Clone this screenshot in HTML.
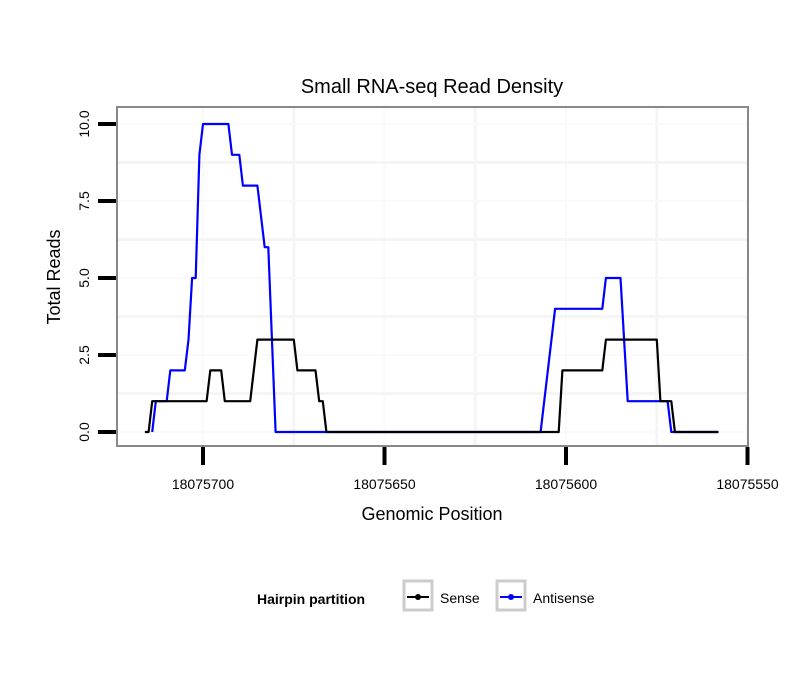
<!DOCTYPE html>
<html><head><meta charset="utf-8"><style>
body{margin:0;background:#fff;}
text{font-family:"Liberation Sans",Arial,sans-serif;}
</style></head><body>
<svg id="chart" width="810" height="690" xmlns="http://www.w3.org/2000/svg">
<rect width="810" height="690" fill="#fff"/>
<text x="432" y="93" font-size="20" text-anchor="middle">Small RNA-seq Read Density</text>
<g id="grid"></g>
<g id="series"></g>
<rect x="117" y="107" width="631" height="339" fill="none" stroke="#888" stroke-width="2"/>
<g id="axes"></g>
<text x="432" y="520" font-size="18" text-anchor="middle">Genomic Position</text>
<text transform="translate(60,277) rotate(-90)" font-size="18" text-anchor="middle">Total Reads</text>
<g>
<text x="257" y="604" font-size="14" font-weight="bold">Hairpin partition</text>
<g>
<rect x="404" y="581" width="28" height="29" fill="#fff" stroke="#ccc" stroke-width="3"/>
<line x1="407" y1="597" x2="429" y2="597" stroke="#000" stroke-width="2"/>
<circle cx="418" cy="597" r="3" fill="#000"/>
<text x="440" y="603" font-size="14">Sense</text>
</g>
<g>
<rect x="497" y="581" width="28" height="29" fill="#fff" stroke="#ccc" stroke-width="3"/>
<line x1="500" y1="597" x2="522" y2="597" stroke="#00f" stroke-width="2"/>
<circle cx="511" cy="597" r="3" fill="#00f"/>
<text x="533" y="603" font-size="14">Antisense</text>
</g>
</g>
</svg>
<script>
const senseX=[18075716,18075715,18075714,18075699,18075698,18075695,18075694,18075687,18075685,18075675,18075674,18075669,18075668,18075667,18075666,18075602,18075601,18075590,18075589,18075575,18075574,18075571,18075570,18075558];
const senseY=[0,0,1,1,2,2,1,1,3,3,2,2,1,1,0,0,2,2,3,3,1,1,0,0];
const antiX=[18075714,18075713,18075710,18075709,18075705,18075704,18075703,18075702,18075701,18075700,18075693,18075692,18075690,18075689,18075685,18075683,18075682,18075680,18075607,18075603,18075590,18075589,18075585,18075583,18075572,18075571,18075558];
const antiY=[0,1,1,2,2,3,5,5,9,10,10,9,9,8,8,6,6,0,0,4,4,5,5,1,1,0,0];
const xTicks=[18075700,18075650,18075600,18075550];
const xMinor=[18075675,18075625,18075575];
const yTicks=[0,2.5,5,7.5,10];
const yTickLabels=["0.0","2.5","5.0","7.5","10.0"];
const yMinor=[1.25,3.75,6.25,8.75];

const NS="http://www.w3.org/2000/svg";
function sx(v){return 203+(18075700-v)*3.63;}
function sy(v){return 432-v*30.8;}
function mk(tag,attrs,parent){const e=document.createElementNS(NS,tag);for(const k in attrs)e.setAttribute(k,attrs[k]);parent.appendChild(e);return e;}
const grid=document.getElementById('grid'),series=document.getElementById('series'),axes=document.getElementById('axes');
xMinor.forEach(v=>{const l=mk('line',{x1:sx(v),x2:sx(v),y1:107,y2:446,stroke:'#f5f5f5','stroke-width':3},grid);

});
xTicks.forEach(v=>{const l=mk('line',{x1:sx(v),x2:sx(v),y1:107,y2:446,stroke:'#fafafa','stroke-width':2},grid);

});
yMinor.forEach(v=>{const l=mk('line',{x1:117,x2:748,y1:sy(v),y2:sy(v),stroke:'#f5f5f5','stroke-width':3},grid);

});
yTicks.forEach(v=>{const l=mk('line',{x1:117,x2:748,y1:sy(v),y2:sy(v),stroke:'#fafafa','stroke-width':2},grid);

});
function path(xs,ys,color,name){let d='';xs.forEach((x,i)=>{d+=(i?'L':'M')+sx(x).toFixed(1)+','+sy(ys[i]).toFixed(1);});
const p=mk('path',{d:d,fill:'none',stroke:color,'stroke-width':2.2,'stroke-linejoin':'round'},series);

}
path(antiX,antiY,'#0000ff','antisense-line');
path(senseX,senseY,'#000000','sense-line');
xTicks.forEach(v=>{const t=mk('line',{x1:sx(v),x2:sx(v),y1:447,y2:465,stroke:'#000','stroke-width':4},axes);


const tx=mk('text',{x:sx(v),y:489,'font-size':14,'text-anchor':'middle'},axes);tx.textContent=v;

});
yTicks.forEach((v,i)=>{const t=mk('line',{x1:98,x2:116,y1:sy(v),y2:sy(v),stroke:'#000','stroke-width':4},axes);


const tx=mk('text',{transform:'translate(89,'+sy(v)+') rotate(-90)','font-size':14,'text-anchor':'middle'},axes);tx.textContent=yTickLabels[i];

});
</script>
</body></html>
